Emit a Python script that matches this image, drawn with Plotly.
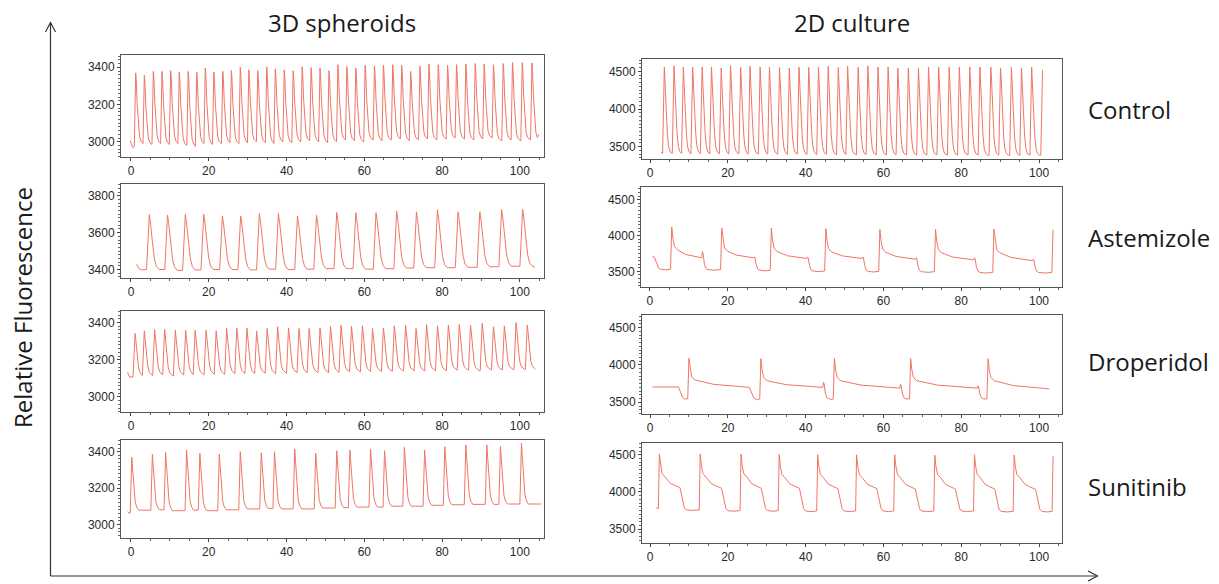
import plotly.graph_objects as go

W, H = 1219, 584
RED = "#f07565"

# ---------------- data ----------------
col_titles = ["3D spheroids", "2D culture"]
row_labels = ["Control", "Astemizole", "Droperidol", "Sunitinib"]
y_title = "Relative Fluorescence"
x_ticks = [0, 20, 40, 60, 80, 100]

# 3D spheroids, Control: spike times, peak values, trough before each spike
c3_t = [1.2, 3.43, 5.74, 7.97, 10.2, 12.4, 14.7, 16.9, 19.1, 21.3, 23.6, 25.8, 28.1, 30.3, 32.6,
        34.9, 37.1, 39.4, 41.7, 44.0, 46.3, 48.6, 50.9, 53.2, 55.5, 57.8, 60.2, 62.6, 64.9, 67.3,
        69.6, 71.9, 74.3, 76.6, 79.0, 81.4, 83.7, 86.1, 88.5, 90.8, 93.2, 95.7, 98.1, 100.6, 103.1]
c3_p = [3370, 3357, 3378, 3378, 3382, 3375, 3378, 3373, 3396, 3375, 3378, 3382, 3400, 3387, 3382,
        3402, 3391, 3386, 3382, 3402, 3398, 3396, 3382, 3414, 3404, 3396, 3411, 3407, 3411, 3414,
        3411, 3378, 3405, 3418, 3414, 3411, 3414, 3418, 3420, 3418, 3414, 3420, 3425, 3425, 3423]
c3_b = [2975, 2990, 2985, 2990, 2985, 2990, 2980, 2975, 2990, 2985, 2990, 2995, 2990, 2995, 3000,
        2995, 2990, 3000, 2995, 3000, 3005, 3000, 2995, 3000, 3010, 3005, 3000, 3010, 3005, 3010,
        3015, 3005, 3010, 3015, 3010, 3015, 3020, 3015, 3010, 3015, 3020, 3005, 3010, 3005, 3010]
c3_lead_x, c3_lead_y = [-0.2, 0.5], [3005, 2968]
c3_tail_x, c3_tail_y = [104.9], [3040]

# 2D culture, Control
c2_t = [3.68, 6.17, 8.57, 10.97, 13.4, 15.8, 18.3, 20.7, 23.3, 25.7, 28.3, 30.7, 33.3, 35.8, 38.3,
        40.8, 43.3, 45.8, 48.4, 50.8, 53.5, 56.0, 58.6, 61.2, 63.7, 66.4, 69.0, 71.6, 74.2, 76.9,
        79.5, 82.2, 84.8, 87.6, 90.1, 92.9, 95.5, 98.1]
c2_p = [4558, 4575, 4558, 4558, 4558, 4558, 4544, 4575, 4553, 4567, 4558, 4558, 4553, 4544, 4558,
        4553, 4553, 4567, 4553, 4567, 4553, 4575, 4558, 4558, 4544, 4544, 4544, 4558, 4558, 4558,
        4558, 4558, 4558, 4558, 4544, 4558, 4544, 4558]
c2_b = [3410, 3408, 3410, 3405, 3408, 3405, 3405, 3402, 3405, 3400, 3402, 3400, 3400, 3398, 3400,
        3398, 3395, 3398, 3395, 3395, 3392, 3395, 3392, 3390, 3392, 3390, 3390, 3388, 3390, 3388,
        3388, 3390, 3388, 3386, 3388, 3386, 3385, 3386]
c2_lead_x, c2_lead_y = [2.8, 3.1], [3430, 3412]
c2_tail_x, c2_tail_y = [100.45, 100.9], [3388, 4520]

# 3D spheroids, Astemizole
a3_t = [4.71, 9.39, 13.97, 18.7, 23.5, 28.2, 33.0, 37.9, 42.8, 47.7, 52.9, 57.8, 63.0, 68.3, 73.4,
        78.8, 84.1, 89.7, 95.3, 100.7]
a3_p = [3699, 3695, 3699, 3700, 3691, 3691, 3704, 3704, 3691, 3695, 3710, 3708, 3708, 3717, 3713,
        3724, 3713, 3713, 3726, 3726]
a3_b = [3400, 3400, 3395, 3398, 3400, 3400, 3398, 3402, 3400, 3402, 3405, 3405, 3402, 3405, 3408,
        3410, 3410, 3412, 3415, 3418]
a3_lead_x, a3_lead_y = [1.45, 2.0, 2.8], [3429, 3405, 3398]
a3_tail_x, a3_tail_y = [103.9], [3412]

# 2D culture, Astemizole
a2_drop_t = [1.3, 13.5, 26.8, 40.5, 54.7, 68.4, 83.4, 98.5]
a2_pre_v = [3700, 3690, 3690, 3680, 3680, 3670, 3660, 3650]
a2_notch_v = [3700, 3775, 3700, 3700, 3700, 3690, 3690, 3670]
a2_low_v = [3530, 3525, 3515, 3505, 3500, 3495, 3485, 3485]
a2_spike_t = [5.6, 18.45, 31.2, 45.2, 59.1, 73.4, 88.4, 103.6]
a2_peak_v = [4119, 4105, 4105, 4095, 4085, 4085, 4091, 4081]
a2_hi_v = [3800, 3780, 3775, 3770, 3765, 3760, 3760, None]
a2_start_x, a2_start_y = 0.6, 3705
a2_end_x, a2_end_y = 103.6, 4081

# 3D spheroids, Droperidol
d3_t = [1.03, 3.43, 6.08, 8.65, 11.4, 14.05, 16.5, 19.3, 21.9, 24.6, 27.2, 29.8, 32.3, 35.0, 37.7,
        40.5, 43.2, 45.8, 48.6, 51.3, 54.0, 56.7, 59.5, 62.1, 64.9, 67.7, 70.6, 73.3, 76.0, 78.8,
        81.6, 84.4, 87.3, 90.3, 93.2, 96.0, 99.0, 101.9]
d3_p = [3341, 3355, 3362, 3364, 3359, 3359, 3359, 3359, 3355, 3368, 3371, 3371, 3355, 3368, 3377,
        3371, 3368, 3368, 3371, 3380, 3386, 3380, 3382, 3368, 3371, 3382, 3386, 3368, 3389, 3382,
        3386, 3389, 3386, 3395, 3377, 3382, 3400, 3386]
d3_b = [3108, 3115, 3115, 3118, 3112, 3118, 3120, 3120, 3122, 3122, 3125, 3125, 3125, 3128, 3125,
        3128, 3130, 3130, 3132, 3130, 3132, 3135, 3135, 3135, 3138, 3138, 3140, 3140, 3140, 3142,
        3142, 3145, 3145, 3142, 3145, 3145, 3148, 3148]
d3_lead_x, d3_lead_y = [-0.9, -0.3], [3132, 3106]
d3_tail_x, d3_tail_y = [104.0], [3150]

# 2D culture, Droperidol
d2_drop_t = [7.5, 25.75, 44.6, 64.4, 84.3]
d2_pre_v = [3705, 3700, 3700, 3690, 3690]
d2_notch_v = [3705, 3700, 3765, 3740, 3720]
d2_low_v = [3545, 3545, 3545, 3545, 3545]
d2_spike_t = [10.0, 28.5, 47.4, 67.0, 86.9]
d2_peak_v = [4090, 4085, 4090, 4085, 4085]
d2_hi_v = [3800, 3790, 3790, 3790, 3790]
d2_start_x, d2_start_y = 0.6, 3705
d2_end_x, d2_end_y = 102.6, 3680

# 3D spheroids, Sunitinib
s3_t = [0.2, 5.5, 8.9, 14.3, 17.7, 22.7, 28.1, 33.5, 36.9, 42.1, 47.5, 52.9, 56.3, 61.6, 65.2,
        70.3, 75.5, 80.7, 86.1, 91.5, 95.0, 100.4]
s3_p = [3369, 3385, 3396, 3409, 3391, 3387, 3400, 3394, 3400, 3415, 3391, 3405, 3409, 3415, 3405,
        3424, 3409, 3427, 3437, 3437, 3428, 3446]
s3_b = [3062, 3078, 3080, 3075, 3078, 3075, 3080, 3085, 3088, 3085, 3085, 3090, 3092, 3095, 3095,
        3100, 3100, 3105, 3108, 3110, 3110, 3112]
s3_lead_x, s3_lead_y = [-0.86, -0.4], [3070, 3060]
s3_tail_x, s3_tail_y = [105.4], [3112]

# 2D culture, Sunitinib
s2_drop_t = [None, 7.9, 18.6, 28.8, 38.6, 48.5, 58.5, 68.4, 78.7, 88.8, 99.3]
s2_pre_v = [None, 4060, 4050, 4050, 4050, 4045, 4045, 4040, 4040, 4040, 4035]
s2_notch_v = [None, 4060, 4050, 4050, 4050, 4045, 4045, 4040, 4040, 4040, 4035]
s2_low_v = [3780, 3760, 3750, 3750, 3745, 3745, 3745, 3745, 3745, 3740, 3740]
s2_spike_t = [2.4, 12.9, 23.4, 33.2, 43.1, 53.1, 62.9, 73.2, 83.4, 93.6, 103.6]
s2_peak_v = [4510, 4510, 4510, 4505, 4500, 4500, 4500, 4495, 4500, 4495, 4480]
s2_hi_v = [4200, 4200, 4200, 4190, 4190, 4190, 4190, 4190, 4190, 4190, None]
s2_start_x, s2_start_y = 1.6, 3785
s2_end_x, s2_end_y = 103.6, 4480


# ---------------- trace builders (shape only, values come from above) ----------------
def spike_train(lead_x, lead_y, t, p, b, rise, decay, tail_x, tail_y):
    xs, ys = list(lead_x), list(lead_y)
    n = len(t)
    for i in range(n):
        lim = t[i + 1] - rise if i + 1 < n else tail_x[0]
        xs += [t[i] - rise, t[i]]
        ys += [b[i], p[i]]
        b_after = b[i + 1] if i + 1 < n else b[i]
        for dt, f in decay:
            if t[i] + dt < lim - 0.05:
                xs.append(t[i] + dt)
                ys.append(b_after + f * (p[i] - b_after))
    xs += list(tail_x)
    ys += list(tail_y)
    return xs, ys


def plateau_wave(x0, y0, drop_t, pre_v, notch_v, low_v, spike_t, peak_v, hi_v, x_end, y_end, rise):
    xs, ys = [x0], [y0]
    n = len(spike_t)
    ended = False
    for k in range(n):
        if drop_t[k] is not None:
            d, pv, lv = drop_t[k], pre_v[k], low_v[k]
            xs.append(d - 0.2); ys.append(pv)
            if notch_v[k] > pv:
                xs += [d, d + 0.15]; ys += [notch_v[k], notch_v[k] - 0.3 * (notch_v[k] - pv)]
            xs += [d + 0.5, d + 0.9, d + 1.4]
            ys += [lv + 0.45 * (pv - lv), lv + 0.1 * (pv - lv), lv]
            gap_mid = (d + 1.4 + spike_t[k] - rise) / 2
            if spike_t[k] - rise - (d + 1.4) > 1.0:
                xs.append(gap_mid); ys.append(lv - 8)
        s = spike_t[k]
        xs += [s - rise, s]
        ys += [low_v[k], peak_v[k]]
        if hi_v[k] is None:
            ended = True
            break
        h, p = hi_v[k], peak_v[k]
        xs += [s + 0.3, s + 0.7, s + 1.5]
        ys += [h + 0.5 * (p - h), h + 0.15 * (p - h), h]
        nxt = drop_t[k + 1] - 0.2 if k + 1 < n else x_end
        ev = pre_v[k + 1] if k + 1 < n else y_end
        xm = s + 1.5 + 0.35 * (nxt - s - 1.5)
        xs.append(xm); ys.append(ev + 0.4 * (h - ev))
    if not ended:
        xs.append(x_end); ys.append(y_end)
    return xs, ys


traces = [
    spike_train(c3_lead_x, c3_lead_y, c3_t, c3_p, c3_b, 0.35,
                [(0.15, 0.9), (0.4, 0.55), (0.7, 0.25), (1.0, 0.1), (1.4, 0.03), (1.9, 0.0)],
                c3_tail_x, c3_tail_y),
    spike_train(c2_lead_x, c2_lead_y, c2_t, c2_p, c2_b, 0.45,
                [(0.2, 0.85), (0.5, 0.5), (0.8, 0.22), (1.1, 0.08), (1.5, 0.02), (2.0, 0.0)],
                c2_tail_x, c2_tail_y),
    spike_train(a3_lead_x, a3_lead_y, a3_t, a3_p, a3_b, 0.7,
                [(0.3, 0.85), (0.8, 0.5), (1.3, 0.2), (1.8, 0.06), (2.5, 0.0)],
                a3_tail_x, a3_tail_y),
    plateau_wave(a2_start_x, a2_start_y, a2_drop_t, a2_pre_v, a2_notch_v, a2_low_v,
                 a2_spike_t, a2_peak_v, a2_hi_v, a2_end_x, a2_end_y, 0.3),
    spike_train(d3_lead_x, d3_lead_y, d3_t, d3_p, d3_b, 0.5,
                [(0.2, 0.85), (0.5, 0.5), (0.9, 0.2), (1.3, 0.07), (1.8, 0.02), (2.2, 0.0)],
                d3_tail_x, d3_tail_y),
    plateau_wave(d2_start_x, d2_start_y, d2_drop_t, d2_pre_v, d2_notch_v, d2_low_v,
                 d2_spike_t, d2_peak_v, d2_hi_v, d2_end_x, d2_end_y, 0.3),
    spike_train(s3_lead_x, s3_lead_y, s3_t, s3_p, s3_b, 0.4,
                [(0.2, 0.8), (0.5, 0.45), (0.9, 0.15), (1.3, 0.05), (1.8, 0.0)],
                s3_tail_x, s3_tail_y),
    plateau_wave(s2_start_x, s2_start_y, s2_drop_t, s2_pre_v, s2_notch_v, s2_low_v,
                 s2_spike_t, s2_peak_v, s2_hi_v, s2_end_x, s2_end_y, 0.25),
]

# ---------------- layout ----------------
# panel boxes in pixels: (left, right, top, bottom), x range, y range, y major / minor step
panels = [
    ((121, 544, 55, 157), (-2.57, 106.2), (2918, 3466), 200, 20),
    ((642, 1062, 59, 159), (-2.06, 105.9), (3336, 4665), 500, 50),
    ((121, 544, 184, 278), (-2.57, 106.2), (3354, 3864), 200, 20),
    ((641, 1062, 187, 287), (-2.3, 105.9), (3282, 4677), 500, 50),
    ((121, 544, 311, 412), (-2.57, 106.2), (2919, 3462), 200, 20),
    ((642, 1062, 315, 414), (-2.06, 105.9), (3343, 4670), 500, 50),
    ((121, 544, 440, 538), (-2.57, 106.2), (2925, 3464), 200, 20),
    ((642, 1062, 443, 543), (-2.06, 105.9), (3315, 4658), 500, 50),
]

fig = go.Figure()
tickfont = dict(family="Liberation Sans, Arial", size=12, color="#2a2a2a")
layout = dict(width=W, height=H, margin=dict(l=0, r=0, t=0, b=0),
              paper_bgcolor="white", plot_bgcolor="white", showlegend=False)

for i, ((L, R, T, B), xr, yr, ystep, yminor) in enumerate(panels):
    n = "" if i == 0 else str(i + 1)
    xs, ys = traces[i]
    fig.add_trace(go.Scatter(x=xs, y=ys, mode="lines", line=dict(color=RED, width=1),
                             xaxis="x" + n, yaxis="y" + n, hoverinfo="skip"))
    layout["xaxis" + n] = dict(
        domain=[L / W, R / W], range=list(xr), anchor="y" + n,
        tickmode="array", tickvals=x_ticks, ticktext=[str(v) for v in x_ticks],
        showline=True, mirror=True, linecolor="#555", linewidth=1,
        ticks="outside", ticklen=3, tickcolor="#444", tickfont=tickfont,
        minor=dict(ticks="outside", dtick=5, tick0=0, ticklen=2, tickcolor="#666"),
        showgrid=False, zeroline=False, fixedrange=True)
    layout["yaxis" + n] = dict(
        domain=[1 - B / H, 1 - T / H], range=list(yr), anchor="x" + n,
        dtick=ystep, tick0=0,
        showline=True, mirror=True, linecolor="#555", linewidth=1,
        ticks="outside", ticklen=3, tickcolor="#444", tickfont=tickfont,
        minor=dict(ticks="outside", dtick=yminor, tick0=0, ticklen=2, tickcolor="#666"),
        showgrid=False, zeroline=False, fixedrange=True)

fig.update_layout(**layout)

title_font = dict(family="Open Sans", size=24, color="#1a1a1a")
ann = [
    dict(text=col_titles[0], x=342 / W, y=1 - 22 / H),
    dict(text=col_titles[1], x=852 / W, y=1 - 22 / H),
]
for lbl, yy in zip(row_labels, [110, 237, 361, 487]):
    ann.append(dict(text=lbl, x=1086 / W, y=1 - yy / H, xanchor="left"))
for a in ann:
    a.setdefault("xanchor", "center")
    fig.add_annotation(xref="paper", yref="paper", yanchor="middle", showarrow=False,
                       font=title_font, **a)
fig.add_annotation(text=y_title, xref="paper", yref="paper", x=22 / W, y=1 - 308 / H,
                   textangle=-90, showarrow=False, font=title_font,
                   xanchor="center", yanchor="middle")

# axis arrows
def px(x, y):
    return x / W, 1 - y / H

ax_col = "#333"
x0, y0 = px(50.5, 576)
x1, y1 = px(50.5, 23)
x2, y2 = px(1097, 576)
fig.add_shape(type="line", xref="paper", yref="paper", x0=x0, y0=y0, x1=x1, y1=y1,
              line=dict(color=ax_col, width=1.2))
fig.add_shape(type="line", xref="paper", yref="paper", x0=x0, y0=y0, x1=x2, y1=y2,
              line=dict(color=ax_col, width=1.2))
a1, b1 = px(45.5, 32)
a2, b2 = px(50.5, 22.5)
a3, b3 = px(55.5, 32)
fig.add_shape(type="path", xref="paper", yref="paper",
              path=f"M {a1} {b1} L {a2} {b2} L {a3} {b3}", line=dict(color=ax_col, width=1.2))
c1, d1 = px(1088, 571)
c2, d2 = px(1097.5, 576)
c3, d3 = px(1088, 581)
fig.add_shape(type="path", xref="paper", yref="paper",
              path=f"M {c1} {d1} L {c2} {d2} L {c3} {d3}", line=dict(color=ax_col, width=1.2))

fig.write_html("out.html", post_script="document.body.style.margin='0';",
               config={"displayModeBar": False})
